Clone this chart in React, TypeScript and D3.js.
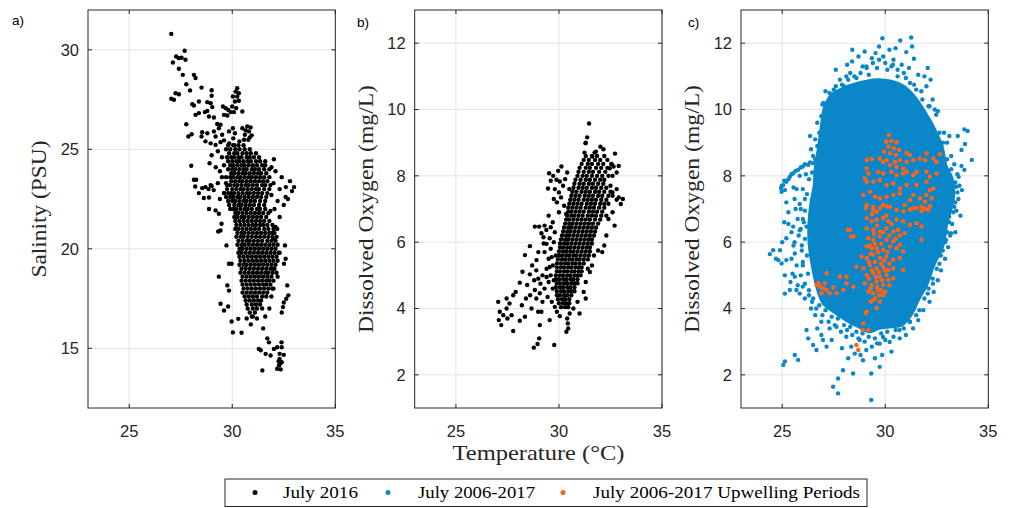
import * as d3 from "d3";

const W = 1013, H = 508;
const TOP = 10, PH = 398, PW = 247.3;
const PANEL_LEFT = [88, 414.7, 741];

const C = {
  ink: "#262626", grid: "#e3e3e3", black: "#000000",
  blue: "#0a87c9", orange: "#f9641a",
};

const TEMP_DOMAIN: [number, number] = [23, 35];
const SAL_DOMAIN: [number, number] = [12, 32];
const DO_DOMAIN: [number, number] = [1, 13];
const TEMP_TICKS = [25, 30, 35];
const SAL_TICKS = [15, 20, 25, 30];
const DO_TICKS = [2, 4, 6, 8, 10, 12];

const LEGEND_LABELS = ["July 2016", "July 2006-2017", "July 2006-2017 Upwelling Periods"];

// a) July 2016 temperature vs salinity — scattered points [T, S]
const JULY2016_TS: [number, number][] = [
  [27.04,30.8],[27.69,29.95],[27.28,29.66],[27.41,29.58],[27.54,29.6],[27.73,29.5],[27.12,29.36],[27.41,29.05],[27.6,28.74],
  [28.14,28.74],[28.22,28.58],[27.77,28.27],[27.95,27.96],[28.51,28.1],[29.0,27.97],[29.0,27.69],[27.25,27.82],[27.41,27.77],
  [27.04,27.54],[27.17,27.49],[28.06,27.27],[28.14,27.2],[28.38,27.4],[28.79,27.37],[28.95,27.32],[29.03,27.12],[29.55,27.15],[29.68,27.07],
  [30.24,28.07],[30.16,27.9],[30.32,27.82],[30.03,27.65],[30.24,27.65],[30.13,27.4],[30.32,27.44],[30.0,27.15],[30.19,27.07],
  [29.92,26.87],[30.08,26.87],[29.81,26.98],[30.49,26.9],[29.6,26.73],[29.76,26.7],
  [28.22,26.73],[28.38,26.82],[28.67,26.87],[28.79,26.93],[28.87,26.65],[29.11,26.6],[27.77,26.26],[27.87,25.64],[28.03,25.76],
  [28.54,25.86],[28.51,25.64],[28.79,25.81],[29.11,25.9],[29.27,26.27],[29.43,26.23],[29.35,26.06],[29.51,25.73],[29.19,25.64],
  [29.84,25.9],[30.03,26.06],[30.13,25.81],
  [30.49,26.06],[30.73,26.15],[30.89,26.1],[30.81,25.9],[30.94,25.7],[30.61,25.73],[30.78,25.48],[30.57,25.48],[30.65,25.95],[30.85,25.6],
  [28.7,25.4],[28.95,25.3],[29.19,25.22],[29.43,25.36],[29.6,25.45],[29.85,25.3],[30.1,25.2],[30.35,25.4],[30.05,25.55],
  [29.3,24.9],[29.0,24.7],[29.5,24.6],[28.9,24.3],[29.2,24.1],
  [32.02,24.5],[28.01,24.17],[28.14,23.47],[28.25,23.47],[28.2,23.13],[28.54,23.05],[28.38,22.8],[28.62,22.55],[28.87,22.58],
  [28.7,23.1],[28.85,23.0],[29.0,23.15],[29.1,22.95],[28.95,23.2],[29.3,23.3],[29.5,23.6],[29.4,23.9],[29.6,24.2],[29.7,23.3],[29.6,22.8],[29.4,22.5],
  [28.87,22.0],[29.19,21.93],[29.35,21.76],[29.48,21.26],[29.32,20.87],[29.43,20.92],[29.72,20.17],[29.84,19.25],[29.97,19.25],
  [29.35,18.6],[29.76,18.16],[29.84,17.9],[29.43,17.24],[29.6,16.9],[29.8,17.1],[29.97,16.35],[30.03,15.8],[30.45,15.78],[30.29,16.48],
  [31.7,15.5],[31.78,15.3],[32.18,15.05],[32.02,14.97],[32.39,15.3],[32.4,15.05],[31.29,14.97],[31.38,14.9],[31.62,14.72],[31.86,14.64],
  [32.3,14.72],[32.5,14.67],[32.3,14.47],[32.4,14.3],[32.27,14.14],[32.18,13.97],[32.35,13.94],[31.46,13.89],[32.3,14.2],[32.25,14.35],
  [32.67,18.16],[32.72,17.66],[32.62,17.49],[32.5,17.3],[32.46,17.07],[32.4,16.8],[32.56,20.17],[32.59,19.5],[32.51,19.25],
  [32.1,21.1],[32.18,21.0],[32.5,22.2],[32.59,22.6],[32.3,21.6],[32.0,20.5],[32.3,19.8],[32.2,18.6],[32.0,18.0],[31.8,17.0],
  [31.6,16.6],[31.2,16.5],[30.9,16.2],[31.5,16.0],[31.0,16.6],[30.7,16.5],
  [32.9,22.9],[33.0,23.1],[32.8,23.4],[32.4,23.6],[32.1,23.9],[31.9,24.1],[32.7,22.5],[32.6,23.1],
  [32.0,23.3],[32.3,23.0],[31.9,22.7],[32.2,22.4],[31.85,21.9],[32.0,19.0],[31.95,20.8],[31.9,17.6],[32.05,22.0],
];

// a) dense part, as rows of [S, temperatures]
const JULY2016_TS_ROWS: [number, number[]][] = [
  [25.2,[29.8,30.05,30.3,30.55]],
  [25.0,[29.7,29.9,30.15,30.35,30.6,30.85]],
  [24.8,[29.85,30.1,30.25,30.5,30.7,30.9,31.15]],
  [24.6,[29.75,29.95,30.1,30.3,30.45,30.7,30.85,31.05,31.3]],
  [24.4,[29.8,30.0,30.2,30.35,30.55,30.75,30.9,31.15,31.35,31.6]],
  [24.2,[29.9,30.05,30.25,30.45,30.6,30.8,31.0,31.2,31.45,31.6]],
  [24.0,[29.8,30.0,30.15,30.35,30.55,30.7,30.95,31.1,31.3,31.55,31.8]],
  [23.8,[29.95,30.1,30.3,30.5,30.65,30.85,31.05,31.25,31.4,31.65]],
  [23.6,[29.7,29.9,30.05,30.25,30.4,30.6,30.8,30.95,31.15,31.35,31.55,31.8]],
  [23.4,[29.95,30.15,30.35,30.5,30.7,30.9,31.1,31.3,31.5,31.7]],
  [23.2,[29.75,29.9,30.1,30.25,30.45,30.65,30.8,31.0,31.2,31.45,31.6,31.85]],
  [23.0,[29.75,30.0,30.2,30.4,30.55,30.75,30.95,31.15,31.3,31.55,31.8]],
  [22.8,[29.6,29.8,29.95,30.1,30.3,30.5,30.7,30.85,31.05,31.25,31.45,31.7]],
  [22.6,[29.7,29.9,30.05,30.25,30.4,30.6,30.8,31.0,31.2,31.4,31.65]],
  [22.4,[29.8,30.0,30.15,30.35,30.55,30.7,30.9,31.1,31.35,31.6]],
  [22.2,[29.85,30.1,30.3,30.45,30.65,30.85,31.05,31.3,31.55]],
  [22.0,[29.9,30.05,30.2,30.4,30.6,30.75,30.95,31.2,31.35,31.6]],
  [21.8,[30.15,30.3,30.5,30.7,30.9,31.1,31.3,31.5,31.75]],
  [21.6,[30.1,30.25,30.45,30.6,30.8,31.0,31.2,31.4,31.65]],
  [21.4,[30.15,30.35,30.55,30.75,30.95,31.15,31.35,31.55,31.8]],
  [21.2,[30.2,30.4,30.6,30.8,31.0,31.15,31.35,31.5,31.7,31.95]],
  [21.0,[30.15,30.3,30.5,30.7,30.9,31.1,31.3,31.55,31.75,32.0]],
  [20.8,[30.25,30.45,30.6,30.8,31.0,31.2,31.4,31.6,31.8,32.05]],
  [20.6,[30.2,30.4,30.55,30.75,30.95,31.15,31.35,31.55,31.75,31.95,32.15]],
  [20.4,[30.3,30.5,30.7,30.85,31.05,31.25,31.45,31.7,31.9,32.1]],
  [20.2,[30.25,30.45,30.6,30.8,31.0,31.2,31.4,31.6,31.8,32.0,32.2]],
  [20.0,[30.35,30.5,30.7,30.9,31.1,31.3,31.5,31.7,31.9,32.1]],
  [19.8,[30.3,30.45,30.65,30.85,31.05,31.25,31.45,31.65,31.85,32.05,32.25]],
  [19.6,[30.35,30.55,30.75,30.95,31.15,31.35,31.55,31.75,31.95,32.15]],
  [19.4,[30.4,30.6,30.8,31.0,31.2,31.4,31.6,31.8,32.0,32.2]],
  [19.2,[30.35,30.55,30.7,30.9,31.1,31.3,31.5,31.7,31.9,32.1]],
  [19.0,[30.45,30.65,30.85,31.05,31.25,31.45,31.65,31.85,32.05]],
  [18.8,[30.4,30.6,30.8,31.0,31.2,31.4,31.6,31.75,31.95,32.15]],
  [18.6,[30.5,30.7,30.9,31.1,31.3,31.5,31.7,31.9]],
  [18.4,[30.45,30.65,30.85,31.05,31.25,31.45,31.65,31.8,32.0]],
  [18.2,[30.5,30.7,30.9,31.1,31.3,31.5,31.65,31.85]],
  [18.0,[30.55,30.75,30.95,31.15,31.35,31.55,31.75,31.95]],
  [17.8,[30.5,30.7,30.9,31.1,31.3,31.5,31.7]],
  [17.6,[30.6,30.8,31.0,31.2,31.45,31.65]],
  [17.4,[30.65,30.85,31.05,31.25,31.4]],
  [17.2,[30.7,30.95,31.15,31.35]],
  [17.0,[30.75,31.0,31.2,31.45]],
  [16.8,[30.85,31.1]],
  [16.6,[30.95]],
];

// b) July 2016 temperature vs dissolved oxygen — scattered points [T, DO]
const JULY2016_TDO: [number, number][] = [
  [31.46,9.58],[31.37,9.16],[31.3,9.0],[31.29,8.98],[32.01,8.88],[32.16,8.8],[32.72,8.67],[31.79,8.73],[31.62,8.58],[31.73,8.7],
  [31.24,8.7],[32.54,8.36],[32.65,8.28],[32.46,8.23],
  [29.52,8.08],[29.72,8.0],[29.96,8.15],[30.12,8.28],[29.88,7.88],[30.04,7.83],[29.47,7.62],[29.8,7.6],[30.0,7.5],[30.3,7.9],
  [30.2,7.7],[29.6,7.85],[30.4,8.1],[30.5,7.6],[30.1,7.35],[29.9,7.2],[30.25,7.1],[29.75,7.3],[30.35,6.85],[30.0,6.9],
  [28.83,6.47],[29.04,6.47],[29.15,6.27],[29.39,6.37],[29.55,6.12],[29.26,5.96],[28.59,5.88],[28.35,5.61],[28.91,5.46],
  [28.23,5.11],[28.59,5.03],[28.1,4.78],[28.46,4.71],[28.83,4.56],[29.07,4.46],[27.78,4.4],[27.46,4.3],[27.05,4.2],[27.13,3.9],
  [27.46,4.0],[27.7,3.8],[27.08,3.65],[27.2,3.5],[27.78,3.32],[28.1,3.63],[28.35,3.75],[28.67,4.0],[28.99,3.9],[29.15,3.9],
  [29.07,3.5],[29.04,3.1],[28.78,2.82],[28.96,2.93],[29.77,2.9],[29.55,3.65],[30.04,3.77],[30.36,3.3],[30.43,3.55],[30.52,3.85],
  [31.0,3.85],[30.45,3.4],[30.4,3.7],
  [29.3,5.7],[29.5,5.5],[29.7,5.3],[29.4,5.2],[29.6,5.0],[29.2,5.0],[29.0,4.9],[29.5,4.8],[29.7,4.6],[29.3,4.6],[29.45,4.35],
  [29.65,4.2],[29.8,4.05],[29.2,4.2],[28.9,4.3],[29.6,5.8],[29.75,6.0],[29.8,6.3],[29.7,6.6],[29.5,6.8],[29.3,6.5],[29.6,6.45],
  [28.7,5.3],[28.9,5.15],[28.6,4.4],[28.2,4.1],[27.9,4.5],[28.4,4.3],[27.5,3.7],[27.3,3.8],[27.6,4.15],[29.9,3.9],[30.7,4.0],
  [30.9,4.2],[31.2,4.5],[31.3,4.8],[31.5,5.1],[31.6,5.3],[31.7,5.6],[31.9,5.75],[32.1,5.7],[31.4,5.2],[31.3,4.3],
  [32.4,6.7],[32.6,6.9],[32.9,7.35],[33.1,7.3],[32.7,6.5],[32.3,6.2],[32.2,5.9],[32.5,7.7],[32.8,7.6],[33.0,7.15],[32.6,7.5],
  [32.8,8.1],[32.9,8.3],[32.6,8.0],
  [29.4,5.95],[29.65,5.55],[29.55,5.25],[29.75,4.85],[29.4,4.95],[29.1,4.75],[29.85,5.6],[28.8,4.85],[29.0,5.7],[29.25,6.15],
];

// b) dense part, as rows of [DO, temperatures]
const JULY2016_TDO_ROWS: [number, number[]][] = [
  [8.6,[31.3,31.6,31.85,32.2]],
  [8.48,[31.2,31.45,31.75,32.0,32.35]],
  [8.36,[31.1,31.4,31.6,31.9,32.15,32.55]],
  [8.24,[31.0,31.3,31.5,31.8,32.05,32.35]],
  [8.12,[30.95,31.2,31.45,31.65,31.95,32.25]],
  [8.0,[30.9,31.15,31.35,31.6,31.85,32.1,32.4]],
  [7.88,[30.8,31.05,31.3,31.5,31.75,32.0,32.2]],
  [7.76,[30.75,31.0,31.2,31.45,31.65,31.9,32.15]],
  [7.64,[30.7,30.95,31.15,31.35,31.6,31.8,32.05,32.3]],
  [7.52,[30.65,30.85,31.1,31.3,31.5,31.75,31.95,32.2,32.5]],
  [7.4,[30.6,30.8,31.0,31.25,31.45,31.65,31.9,32.1,32.4,32.6]],
  [7.28,[30.55,30.75,30.95,31.2,31.4,31.6,31.8,32.05,32.3,32.8]],
  [7.16,[30.5,30.7,30.9,31.1,31.35,31.55,31.75,32.0,32.2,32.4]],
  [7.04,[30.45,30.65,30.85,31.05,31.3,31.5,31.7,31.95,32.2]],
  [6.92,[30.45,30.6,30.8,31.0,31.2,31.45,31.65,31.85,32.1]],
  [6.8,[30.4,30.6,30.75,30.95,31.15,31.4,31.6,31.8,32.05,32.3]],
  [6.68,[30.35,30.5,30.7,30.9,31.1,31.3,31.5,31.75,32.0]],
  [6.56,[30.3,30.5,30.65,30.85,31.05,31.25,31.45,31.65,31.9]],
  [6.44,[30.25,30.45,30.6,30.8,31.0,31.2,31.4,31.6,31.8]],
  [6.32,[30.2,30.4,30.55,30.75,30.95,31.15,31.35,31.55,31.75]],
  [6.2,[30.15,30.35,30.5,30.7,30.9,31.1,31.3,31.5,31.7]],
  [6.08,[30.1,30.3,30.45,30.65,30.85,31.05,31.25,31.45,31.6]],
  [5.96,[30.05,30.25,30.4,30.6,30.8,31.0,31.2,31.4,31.6]],
  [5.84,[30.05,30.2,30.4,30.55,30.75,30.95,31.15,31.35,31.5]],
  [5.72,[30.0,30.2,30.35,30.55,30.7,30.9,31.1,31.3,31.5]],
  [5.6,[30.0,30.15,30.35,30.5,30.7,30.85,31.05,31.25,31.45]],
  [5.48,[29.95,30.15,30.3,30.5,30.65,30.85,31.0,31.2,31.4]],
  [5.36,[29.9,30.1,30.3,30.45,30.65,30.8,31.0,31.2]],
  [5.24,[29.9,30.1,30.25,30.45,30.6,30.8,30.95,31.1]],
  [5.12,[29.9,30.05,30.25,30.4,30.6,30.75,30.95,31.1]],
  [5.0,[29.85,30.05,30.2,30.4,30.55,30.75,30.9,31.05]],
  [4.88,[29.85,30.0,30.2,30.35,30.55,30.7,30.9]],
  [4.76,[29.9,30.05,30.25,30.4,30.6,30.75,30.9]],
  [4.64,[29.85,30.05,30.2,30.4,30.55,30.75]],
  [4.52,[29.9,30.1,30.25,30.45,30.6,30.75]],
  [4.4,[29.9,30.05,30.25,30.4,30.6]],
  [4.28,[29.95,30.15,30.3,30.5]],
  [4.16,[30.0,30.2,30.35,30.5]],
  [4.04,[30.1,30.3,30.45]],
];

// c) July 2006-2017: outline of the saturated cloud [T, DO]
const ALL_YEARS_CORE: [number, number][] = [
  [27.4,10.45],[28.0,10.65],[28.7,10.8],[29.6,10.9],[30.3,10.85],[30.9,10.7],[31.4,10.4],[31.9,9.95],[32.4,9.4],[32.75,8.9],
  [32.95,8.3],[33.25,7.9],[33.3,7.3],[33.0,6.6],[32.8,5.9],[32.35,5.3],[32.0,4.7],[31.6,4.25],[31.3,3.85],[30.8,3.5],[30.3,3.45],
  [29.7,3.4],[29.2,3.3],[28.7,3.45],[28.1,3.65],[27.5,3.9],[27.0,4.15],[26.75,4.5],[26.55,5.0],[26.4,5.5],[26.3,6.0],[26.3,6.6],
  [26.4,7.2],[26.55,7.7],[26.6,8.2],[26.75,8.8],[26.9,9.5],[27.05,10.05],
];

// c) July 2006-2017: points outside / along the saturated cloud [T, DO]
const ALL_YEARS: [number, number][] = [
  [29.86,12.15],[30.73,12.08],[31.26,12.17],[31.02,11.73],[29.53,11.7],[28.39,11.45],[31.39,11.53],[32.06,11.25],[31.9,11.0],
  [32.2,10.9],[30.37,11.35],[29.08,11.3],[28.11,11.0],[27.63,10.4],[27.31,10.29],[27.23,9.9],[32.15,10.1],[32.4,10.0],[32.47,9.84],
  [32.63,9.3],[32.8,9.0],
  [33.11,9.2],[33.52,9.2],[33.84,9.4],[34.0,9.35],[33.87,8.96],[33.7,8.78],[34.2,8.48],[33.84,8.18],[33.56,7.97],[33.72,7.57],
  [33.44,7.67],[33.35,7.07],[33.19,6.27],[33.1,6.77],[32.95,6.07],
  [24.94,7.63],[25.05,7.72],[25.2,7.82],[25.37,7.97],[25.53,8.08],[25.77,8.18],[26.0,8.28],[26.26,8.33],[26.5,8.38],[24.97,7.52],[25.13,7.57],
  [24.98,7.7],[25.1,7.85],[25.3,7.9],[25.45,8.05],[25.65,8.15],[25.9,8.25],[26.1,8.35],[26.35,8.4],
  [24.4,5.64],[24.56,5.76],[24.89,5.76],[24.81,5.46],[24.97,5.36],[25.13,5.0],[25.2,5.46],[25.61,4.96],[25.69,4.56],[26.0,4.66],
  [25.37,4.56],[25.61,5.66],[25.85,6.36],[26.18,6.47],[25.53,6.47],[25.2,6.12],[25.13,4.45],
  [25.13,2.4],[25.05,2.3],[25.61,2.6],[25.77,2.45],[26.18,3.35],[26.26,3.1],[26.5,2.9],[26.66,2.75],[26.98,3.05],[27.15,2.85],
  [27.47,1.64],[27.71,1.44],[27.71,1.89],[27.95,2.14],[28.44,2.04],[28.52,2.64],[28.92,2.44],[29.08,2.75],[29.32,2.04],[29.32,1.24],
  [29.73,2.24],[29.73,2.94],[29.89,3.14],[30.21,2.99],[28.11,3.15],[27.63,3.45],[28.76,3.05],[28.35,2.85],[30.69,3.35],[31.18,3.6],
  [31.66,3.95],[32.06,4.45],[32.31,4.75],[32.63,5.35],[32.79,5.75],
  [27.3,10.5],[27.6,10.7],[27.9,10.75],[28.2,10.9],[28.5,11.0],[28.8,11.1],[29.1,11.25],[29.4,11.4],[29.7,11.5],[30.0,11.4],
  [30.3,11.3],[30.6,11.2],[30.9,11.1],[31.2,10.8],[31.5,10.6],[31.8,10.3],[32.1,10.1],[27.0,10.2],[26.9,9.8],[26.8,9.3],[26.7,8.9],[26.6,8.5],
  [27.5,10.6],[27.8,10.9],[28.0,10.7],[28.3,11.1],[28.6,10.95],[28.9,11.3],[29.2,11.05],[29.35,11.55],[29.6,11.25],[29.9,11.6],
  [30.1,11.2],[30.4,11.5],[30.6,11.0],[30.8,11.35],[31.0,10.95],[31.15,11.25],[31.4,10.75],[31.6,11.05],[31.75,10.55],[32.0,10.7],
  [32.3,10.3],[32.55,9.95],[27.1,10.55],[26.95,10.15],[28.15,11.35],[28.7,11.6],[29.0,11.75],[30.2,11.8],[30.5,11.85],[31.3,11.9],
  [29.7,11.9],[27.6,11.2],[28.4,11.8],
  [33.0,8.5],[33.2,8.2],[33.4,7.8],[33.5,7.5],[33.4,7.2],[33.3,6.9],[33.1,6.6],[33.0,6.3],[32.9,6.0],[32.7,5.6],[32.5,5.2],
  [32.3,4.9],[32.1,4.6],[31.9,4.3],
  [33.0,9.0],[33.2,8.6],[33.35,8.35],[33.5,8.05],[33.6,7.7],[33.55,7.3],[33.45,6.95],[33.25,6.55],[33.15,6.2],[33.05,5.85],
  [32.9,5.5],[32.7,5.15],[32.55,4.85],[32.35,4.5],[32.15,4.2],[31.85,3.95],[33.7,8.3],[33.65,6.8],[33.4,6.3],[32.85,9.3],
  [31.5,3.8],[31.2,3.6],[30.9,3.4],[30.5,3.35],[30.1,3.3],[29.8,3.25],[29.5,3.1],[29.2,3.15],[28.9,3.25],[28.6,3.3],[28.3,3.45],
  [28.0,3.5],[27.7,3.7],[27.4,3.75],[27.1,3.95],[26.8,4.1],[26.5,4.3],[26.3,4.55],
  [31.6,3.65],[31.35,3.4],[31.0,3.2],[30.7,3.1],[30.4,3.15],[30.0,3.05],[29.6,2.95],[29.35,2.85],[29.0,3.0],[28.7,3.1],[28.4,3.2],
  [28.15,3.35],[27.85,3.3],[27.55,3.5],[27.25,3.6],[26.95,3.8],[26.65,4.0],[26.45,4.2],[29.85,2.6],[29.5,2.5],[28.8,2.6],[28.2,2.5],
  [27.4,3.05],[26.9,3.2],[30.3,2.7],[27.9,2.8],
  [25.9,5.0],[26.0,5.4],[25.95,5.9],[25.8,6.2],[26.0,6.7],[25.9,7.0],[26.1,7.3],[25.6,7.3],[25.7,7.6],[25.3,6.9],[25.45,6.3],
  [25.55,5.9],[25.75,4.7],[26.1,4.3],[26.4,4.0],[26.6,3.8],[26.9,3.6],[27.3,3.4],[26.7,3.4],
  [26.3,4.4],[26.1,4.75],[26.25,5.05],[26.0,5.3],[26.2,5.6],[25.95,5.75],[26.1,6.1],[25.9,6.4],[26.05,6.6],[25.75,6.7],[26.1,6.95],
  [25.85,7.15],[26.2,7.45],[26.0,7.6],[26.3,7.9],[26.45,8.1],[26.5,8.6],[26.6,9.1],[26.7,9.6],[26.35,9.2],[26.4,8.8],[25.6,6.0],
  [25.45,5.5],[25.7,5.3],[25.5,5.05],[25.85,4.45],[25.4,4.8],[25.3,6.55],[25.65,7.0],[25.2,7.2],[25.55,7.65],[25.85,8.0],[26.15,8.05],
  [24.7,5.5],[25.0,6.0],[25.1,6.6],
];

// c) July 2006-2017 upwelling periods [T, DO]
const UPWELLING: [number, number][] = [
  [30.18,9.23],[30.06,9.03],[30.3,9.05],[30.55,9.01],[30.15,8.88],[30.42,8.83],[30.68,8.78],[29.94,8.73],[30.23,8.68],[30.52,8.63],
  [31.04,8.68],[31.2,8.63],[32.0,8.68],[32.65,8.65],[32.33,8.52],[32.49,8.42],
  [29.1,8.48],[29.34,8.51],[29.74,8.52],[29.9,8.42],[30.06,8.47],[30.47,8.42],[30.71,8.47],[31.04,8.42],[31.36,8.47],[31.68,8.52],
  [31.93,8.47],[30.23,8.32],[30.55,8.27],[30.87,8.22],
  [29.1,8.22],[29.18,8.07],[29.66,8.12],[29.9,8.07],[30.3,8.12],[30.55,8.02],[30.87,8.07],[31.04,8.12],[31.36,8.02],[31.52,8.12],
  [32.0,8.12],[32.17,7.97],[32.49,8.07],
  [29.01,7.92],[29.1,7.82],[29.42,7.82],[29.74,7.87],[30.06,7.72],[30.39,7.77],[30.71,7.62],[31.04,7.72],[31.52,7.72],[32.0,7.82],
  [32.17,7.57],[32.33,7.62],
  [28.93,7.42],[29.26,7.52],[29.5,7.37],[29.74,7.32],[30.06,7.37],[30.39,7.42],[30.71,7.47],[31.2,7.27],[31.36,7.42],[31.68,7.32],
  [32.0,7.42],[32.25,7.32],
  [29.1,7.12],[29.42,7.07],[29.58,6.91],[29.9,7.12],[30.23,7.07],[30.55,6.97],[30.95,7.12],[31.36,7.02],[31.76,7.07],[31.93,7.22],[32.09,6.97],
  [29.06,7.03],[29.42,6.98],[29.74,7.03],[30.06,7.08],[30.87,6.93],[31.2,6.98],[31.52,7.03],[31.76,6.93],[31.93,7.01],[32.17,7.08],
  [29.1,6.73],[29.34,6.63],[29.58,6.68],[29.9,6.73],[30.15,6.63],[30.55,6.68],[30.87,6.63],[31.2,6.52],[31.52,6.57],[31.76,6.47],
  [29.1,6.42],[29.42,6.37],[29.74,6.32],[30.06,6.42],[30.39,6.32],[30.63,6.37],[30.95,6.27],[28.28,6.37],[28.45,6.17],[31.76,6.07],
  [29.18,6.12],[29.42,6.07],[29.74,6.17],[30.06,6.07],[30.39,6.02],[30.71,5.92],[29.1,5.87],[29.34,5.82],
  [29.58,5.82],[29.9,5.77],[30.23,5.87],[30.55,5.82],[30.87,5.72],
  [28.85,5.57],[29.1,5.52],[29.42,5.62],[29.74,5.52],[30.06,5.57],[30.39,5.47],[30.71,5.52],[28.6,5.26],[28.93,5.21],[29.26,5.31],
  [29.58,5.21],[29.9,5.26],[30.15,5.16],[30.39,5.21],[30.87,5.16],
  [29.1,5.01],[29.42,5.06],[29.74,4.96],[30.06,5.01],[29.01,4.76],[29.34,4.71],[29.58,4.81],[29.9,4.71],[30.15,4.86],[30.39,4.91],
  [29.18,4.51],[29.42,4.46],[29.66,4.56],[29.9,4.41],[29.42,4.26],[29.74,4.21],[29.58,4.01],[29.1,3.91],[29.06,3.86],
  [28.93,3.55],[28.9,3.35],[29.18,3.35],[28.6,2.9],[28.69,2.75],
  [26.67,4.71],[26.83,4.66],[26.75,4.76],[26.99,4.61],[27.15,4.56],[27.31,4.46],[27.07,4.76],[26.91,4.46],[27.8,4.96],[28.12,4.96],
  [27.48,4.63],[27.64,4.46],[27.96,4.56],[28.45,4.66],[28.12,4.76],[27.15,5.06],[28.19,6.37],[28.35,6.17],
  [29.25,5.9],[29.5,5.95],[29.8,5.95],[30.1,5.7],[29.3,5.65],[29.65,5.7],[29.95,5.45],[29.2,5.4],[29.5,5.4],[29.8,5.35],[30.2,5.35],
  [29.35,5.15],[29.7,5.1],[30.0,5.15],[29.2,4.9],[29.55,4.95],[29.85,4.85],[30.2,4.7],[29.3,4.6],[29.6,4.65],[29.8,4.55],[29.5,4.3],
  [29.3,4.2],[29.7,4.4],[30.0,4.5],[29.45,6.25],[29.9,6.3],[30.2,6.2],[29.6,6.5],[30.3,6.55],[30.05,6.8],[29.35,6.85],[30.7,6.2],[30.5,6.1],
];

const rowsToPoints = (rows: [number, number[]][]): [number, number][] =>
  rows.flatMap(([yv, xs]) => xs.map(xv => [xv, yv] as [number, number]));

const SANS = "'Liberation Sans', Arial, sans-serif";
const SERIF = "'Liberation Serif', 'Times New Roman', serif";

type Scale = d3.ScaleLinear<number, number>;

function Panel({ idx, yDomain, yTicks, yLabel, yLabelLen, tag, tagPos, draw }: {
  idx: number; yDomain: [number, number]; yTicks: number[]; yLabel: string; yLabelLen: number;
  tag: string; tagPos: [number, number]; draw: (x: Scale, y: Scale) => any;
}) {
  const left = PANEL_LEFT[idx];
  const x = d3.scaleLinear().domain(TEMP_DOMAIN).range([left, left + PW]);
  const y = d3.scaleLinear().domain(yDomain).range([TOP + PH, TOP]);
  const bottom = TOP + PH, right = left + PW, TL = 4;
  const clipId = `clip-${idx}`;
  return (
    <g>
      <defs>
        <clipPath id={clipId}><rect x={left} y={TOP} width={PW} height={PH} /></clipPath>
      </defs>
      <rect x={left} y={TOP} width={PW} height={PH} fill="#fff" />
      {TEMP_TICKS.map(t => (
        <line key={"gx" + t} x1={x(t)} x2={x(t)} y1={TOP} y2={bottom} stroke={C.grid} strokeWidth={1} />
      ))}
      {yTicks.map(t => (
        <line key={"gy" + t} x1={left} x2={right} y1={y(t)} y2={y(t)} stroke={C.grid} strokeWidth={1} />
      ))}
      <g clipPath={`url(#${clipId})`}>{draw(x, y)}</g>
      {TEMP_TICKS.map(t => (
        <g key={"tx" + t}>
          <line x1={x(t)} x2={x(t)} y1={bottom} y2={bottom - TL} stroke={C.ink} />
          <line x1={x(t)} x2={x(t)} y1={TOP} y2={TOP + TL} stroke={C.ink} />
          <text x={x(t)} y={437} textAnchor="middle" fontFamily={SANS} fontSize={16.5} fill={C.ink}>{t}</text>
        </g>
      ))}
      {yTicks.map(t => (
        <g key={"ty" + t}>
          <line x1={left} x2={left + TL} y1={y(t)} y2={y(t)} stroke={C.ink} />
          <line x1={right} x2={right - TL} y1={y(t)} y2={y(t)} stroke={C.ink} />
          <text x={left - 9} y={y(t)} dy="0.35em" textAnchor="end" fontFamily={SANS} fontSize={16.5} fill={C.ink}>{t}</text>
        </g>
      ))}
      <rect x={left} y={TOP} width={PW} height={PH} fill="none" stroke={C.ink} strokeWidth={1} />
      <text transform={`translate(${left - 42},${TOP + PH / 2}) rotate(-90)`} textAnchor="middle"
        fontFamily={SERIF} fontSize={21} fill={C.ink} textLength={yLabelLen} lengthAdjust="spacingAndGlyphs">{yLabel}</text>
      <text x={tagPos[0]} y={tagPos[1]} fontFamily={SANS} fontSize={13.5} fill="#000">{tag}</text>
    </g>
  );
}

const dots = (pts: [number, number][], x: Scale, y: Scale, fill: string, r: number) =>
  pts.map((d, i) => <circle key={i} cx={x(d[0])} cy={y(d[1])} r={r} fill={fill} />);

export default function App() {
  const tsPts = [...rowsToPoints(JULY2016_TS_ROWS), ...JULY2016_TS];
  const doPts = [...rowsToPoints(JULY2016_TDO_ROWS), ...JULY2016_TDO];
  const legendX = [255, 388, 563];
  const legendTextX = [283, 418, 593];
  const legendLen = [75, 117, 267];
  const legendColor = [C.black, C.blue, C.orange];

  return (
    <svg width={W} height={H} style={{ position: "absolute", left: 0, top: 0, background: "#fff" }}>
      <rect width={W} height={H} fill="#fff" />
      <Panel idx={0} yDomain={SAL_DOMAIN} yTicks={SAL_TICKS} yLabel="Salinity (PSU)" yLabelLen={137}
        tag="a)" tagPos={[12, 25]} draw={(x, y) => dots(tsPts, x, y, C.black, 2.2)} />
      <Panel idx={1} yDomain={DO_DOMAIN} yTicks={DO_TICKS} yLabel="Dissolved Oxygen (mg/L)" yLabelLen={248}
        tag="b)" tagPos={[357, 27]} draw={(x, y) => dots(doPts, x, y, C.black, 2.2)} />
      <Panel idx={2} yDomain={DO_DOMAIN} yTicks={DO_TICKS} yLabel="Dissolved Oxygen (mg/L)" yLabelLen={248}
        tag="c)" tagPos={[688, 27]} draw={(x, y) => {
          const outline = d3.line<[number, number]>().x(d => x(d[0])).y(d => y(d[1])).curve(d3.curveCatmullRomClosed);
          return (
            <g>
              <path d={outline(ALL_YEARS_CORE) || ""} fill={C.blue} stroke={C.blue} strokeWidth={3} />
              {dots(ALL_YEARS, x, y, C.blue, 2.2)}
              {dots(UPWELLING, x, y, C.orange, 2.3)}
            </g>
          );
        }} />
      <text x={538.5} y={460} textAnchor="middle" fontFamily={SERIF} fontSize={21} fill={C.ink}
        textLength={172} lengthAdjust="spacingAndGlyphs">Temperature (°C)</text>
      <rect x={225} y={479} width={642} height={27.5} fill="#fff" stroke={C.ink} strokeWidth={1} />
      {LEGEND_LABELS.map((lab, i) => (
        <g key={lab}>
          <circle cx={legendX[i]} cy={492.5} r={2.5} fill={legendColor[i]} />
          <text x={legendTextX[i]} y={497.5} fontFamily={SERIF} fontSize={17} fill="#000"
            textLength={legendLen[i]} lengthAdjust="spacingAndGlyphs">{lab}</text>
        </g>
      ))}
    </svg>
  );
}
